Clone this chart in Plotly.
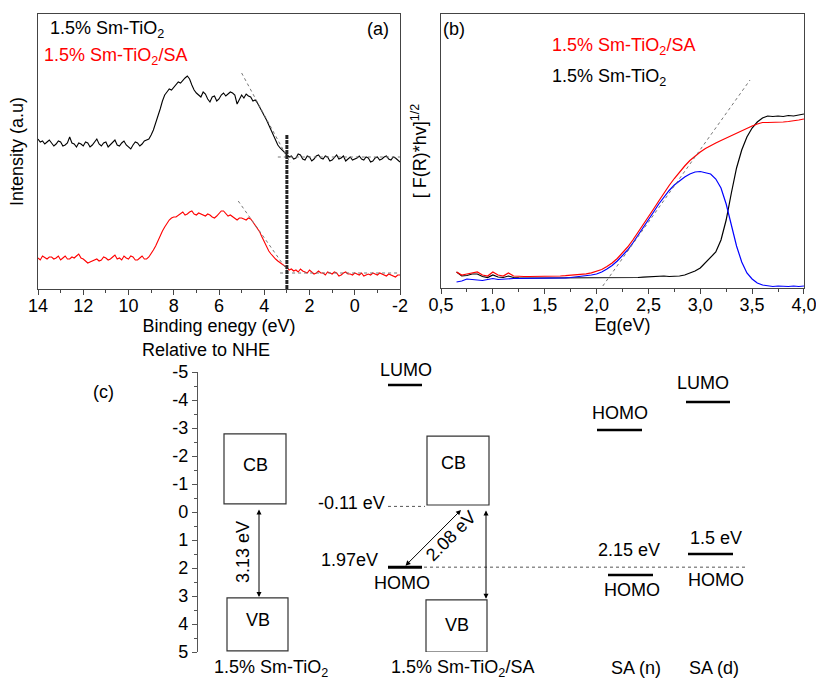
import numpy as np
import plotly.graph_objects as go

FONT = "Liberation Sans, Arial, sans-serif"
PAGE_W, PAGE_H = 816, 681
OFF = 0  # body margin is removed by the post script below
W, H = PAGE_W - OFF, PAGE_H - OFF

# ---------------- Panel (a): valence band XPS ----------------
binding_energy = np.round(np.arange(14.0, -2.001, -0.1), 1)
xps_sm_tio2 = [150, 147, 148, 145, 147, 149, 146, 143, 145, 148,
               147, 143, 144, 146, 152, 146, 145, 142, 146, 145,
               143, 147, 146, 142, 144, 147, 150, 145, 143, 146,
               147, 142, 144, 147, 149, 144, 143, 146, 148, 144,
               142, 140, 144, 147, 146, 143, 145, 148, 149, 150,
               154, 159, 166, 172, 180, 188, 194, 197, 200, 199,
               202, 205, 207, 206, 209, 211, 213, 210, 204, 199,
               196, 194, 192, 197, 195, 190, 187, 192, 193, 188,
               190, 194, 196, 193, 195, 197, 196, 194, 185, 190,
               194, 191, 195, 193, 192, 188, 189, 186, 182, 178,
               174, 169, 164, 159, 154, 149, 144, 141, 139, 137,
               135, 132, 133, 130, 131, 135, 134, 130, 129, 133,
               132, 128, 130, 133, 134, 131, 130, 133, 132, 128,
               129, 132, 134, 130, 131, 133, 128, 130, 132, 129,
               130, 131, 133, 130, 129, 132, 131, 127, 128, 131,
               132, 129, 130, 132, 133, 130, 129, 132, 131, 129,
               127]
xps_sm_tio2_sa = [31, 29, 33, 31, 30, 32, 32, 30, 31, 33,
                  29, 31, 33, 30, 30, 32, 31, 33, 35, 31,
                  30, 28, 26, 27, 28, 29, 30, 28, 29, 32,
                  31, 29, 30, 32, 34, 30, 31, 29, 33, 31,
                  30, 33, 32, 29, 29, 31, 33, 30, 30, 32,
                  35, 39, 43, 48, 54, 58, 62, 66, 69, 71,
                  72, 72, 74, 76, 77, 74, 75, 77, 78, 75,
                  74, 76, 75, 74, 73, 75, 74, 72, 71, 73,
                  76, 78, 78, 75, 73, 74, 72, 71, 69, 71,
                  71, 70, 69, 71, 70, 67, 64, 61, 57, 52,
                  47, 42, 38, 35, 32, 30, 28, 26, 25, 23,
                  22, 19, 20, 18, 19, 17, 20, 18, 17, 16,
                  19, 17, 15, 16, 18, 16, 16, 14, 17, 16,
                  15, 17, 16, 13, 14, 16, 17, 15, 15, 14,
                  16, 15, 14, 16, 13, 14, 15, 14, 16, 15,
                  14, 16, 15, 14, 13, 15, 14, 13, 12, 14,
                  14]
tan_a_black_x, tan_a_black_y = [5.0, 2.85], [216, 126]
base_a_black_x, base_a_black_y = [3.4, -2.0], [132, 132]
tan_a_red_x, tan_a_red_y = [5.15, 2.9], [88, 16]
base_a_red_x, base_a_red_y = [3.3, -2.0], [16, 16]
vbm_x, vbm_y = [3.0, 3.0], [0, 155]

# ---------------- Panel (b): Tauc plot ----------------
eg = np.round(np.arange(0.65, 4.0001, 0.05), 2)
tauc_sa = [16, 13, 14, 15, 16, 13, 12, 16, 13, 12,
           15, 12, 11.5, 11.5, 11.5, 11.5, 11.5, 11.5, 11.8, 12,
           12, 12.3, 12.6, 13, 13.5, 14.2, 15.2, 16.5, 18.5, 21.5,
           25, 29.5, 35, 41, 48, 55.5, 63, 71, 79, 87,
           95, 102.5, 109.5, 116, 122, 127.5, 132, 136, 139.5, 142.5,
           145, 147.5, 150, 152.5, 155, 157, 159.5, 162, 164, 165.5,
           165.5, 165.5, 166, 166, 166.5, 167, 168, 169]
tauc_tio2 = [16, 12, 12.5, 14, 14, 11.5, 10.5, 13, 11, 10.5,
             12, 10.5, 10.2, 10, 10, 10, 10, 10, 10, 10,
             10, 10, 10, 10, 10, 10, 10, 10, 10.2, 10.2,
             10.3, 10.3, 10.4, 10.4, 10.5, 10.5, 10.8, 11, 11.5, 12,
             12, 11.5, 11.5, 12, 13, 15, 17, 20, 25, 30,
             36, 48, 68, 95, 120, 138, 151, 160, 166, 170,
             172, 171.5, 172, 171.5, 172.5, 172, 173, 174]
tauc_diff = [6, 7, 9, 8.5, 8, 7.5, 8.5, 9.5, 8.5, 9,
             9.5, 9.5, 9.5, 9.5, 9.6, 9.7, 9.8, 9.9, 10, 10,
             10, 10.2, 10.5, 11, 11.5, 12, 13, 14, 16, 19,
             22.5, 27, 32, 38, 45, 52.5, 60, 68, 76, 84,
             91, 97.5, 103, 107.5, 111, 114, 116, 116.5, 115, 114,
             109, 100, 84, 63, 42, 26, 15, 9, 5, 3,
             2, 1.5, 2, 1.5, 1.5, 2, 1.5, 2]
tan_b_x, tan_b_y = [2.06, 3.48], [2, 208]
eg_ticks = [0.5, 1.0, 1.5, 2.0, 2.5, 3.0, 3.5, 4.0]
eg_ticktext = ["0,5", "1,0", "1,5", "2,0", "2,5", "3,0", "3,5", "4,0"]

# ---------------- Panel (c): energy diagram (eV vs NHE) ----------------
cb_tio2 = [-2.79, -0.29]
vb_tio2 = [3.07, 4.96]
cb_comp = [-2.71, -0.25]
vb_comp = [3.14, 5.0]
lumo_comp = -4.54
homo_comp = 1.97
cb_edge_comp = -0.2
san_upper, san_lower = -2.93, 2.25
sad_upper, sad_lower = -3.93, 1.5
arrow_tio2 = [-0.14, 3.04]
arrow_comp = [-0.11, 3.1]
arrow_diag = [1.97, -0.07]
nhe_ticks = list(range(-5, 6))
nhe_ticktext = [str(v) for v in nhe_ticks]


def px_x(p):
    return (p - OFF) / W


def px_y(p):
    return 1 - (p - OFF) / H


fig = go.Figure()

# panel (a) traces
fig.add_trace(go.Scatter(x=binding_energy, y=xps_sm_tio2, mode="lines",
                         line=dict(color="black", width=1.1), xaxis="x", yaxis="y", showlegend=False))
fig.add_trace(go.Scatter(x=binding_energy, y=xps_sm_tio2_sa, mode="lines",
                         line=dict(color="red", width=1.1), xaxis="x", yaxis="y", showlegend=False))
for xs, ys in [(tan_a_black_x, tan_a_black_y), (base_a_black_x, base_a_black_y),
               (tan_a_red_x, tan_a_red_y), (base_a_red_x, base_a_red_y)]:
    fig.add_trace(go.Scatter(x=xs, y=ys, mode="lines", line=dict(color="#777", width=1, dash="dot"),
                             xaxis="x", yaxis="y", showlegend=False))
fig.add_trace(go.Scatter(x=vbm_x, y=vbm_y, mode="lines", line=dict(color="#222", width=3, dash="4px,1px"),
                         xaxis="x", yaxis="y", showlegend=False))

# panel (b) traces
fig.add_trace(go.Scatter(x=eg, y=tauc_tio2, mode="lines", line=dict(color="black", width=1.2),
                         xaxis="x2", yaxis="y2", showlegend=False))
fig.add_trace(go.Scatter(x=eg, y=tauc_diff, mode="lines", line=dict(color="blue", width=1.2),
                         xaxis="x2", yaxis="y2", showlegend=False))
fig.add_trace(go.Scatter(x=eg, y=tauc_sa, mode="lines", line=dict(color="red", width=1.2),
                         xaxis="x2", yaxis="y2", showlegend=False))
fig.add_trace(go.Scatter(x=tan_b_x, y=tan_b_y, mode="lines", line=dict(color="#777", width=1, dash="dot"),
                         xaxis="x2", yaxis="y2", showlegend=False))

# panel (c) invisible anchor trace
fig.add_trace(go.Scatter(x=[400], y=[0], mode="markers", marker=dict(opacity=0), xaxis="x3", yaxis="y3",
                         showlegend=False, hoverinfo="skip"))

shapes = []


def rect(x0, x1, ys):
    shapes.append(dict(type="rect", xref="x3", yref="y3", x0=x0, x1=x1, y0=ys[0], y1=ys[1],
                       line=dict(color="#333", width=1.2), fillcolor="rgba(0,0,0,0)"))


def hline(x0, x1, y, width=2.5, dash="solid", color="black"):
    shapes.append(dict(type="line", xref="x3", yref="y3", x0=x0, x1=x1, y0=y, y1=y,
                       line=dict(color=color, width=width, dash=dash)))


rect(224, 286, cb_tio2)
rect(227, 288, vb_tio2)
rect(427, 489, cb_comp)
rect(426, 487, vb_comp)
hline(388, 422, lumo_comp, 2.5)
hline(388, 422, homo_comp, 3)
hline(388, 425, cb_edge_comp, 1, "dot", "#555")
hline(424, 745, homo_comp, 1, "dot", "#555")
hline(597, 642, san_upper, 2.5)
hline(608, 653, san_lower, 2.5)
hline(686, 730, sad_upper, 2.5)
hline(688, 733, sad_lower, 2.5)

anns = []


def txt(x, y, s, xref="x3", yref="y3", size=18, color="black", angle=0, xanchor="center"):
    if xref == "paper":
        x = px_x(x)
    if yref == "paper":
        y = px_y(y)
    anns.append(dict(x=x, y=y, xref=xref, yref=yref, text=s, showarrow=False, textangle=angle,
                     xanchor=xanchor, yanchor="middle", font=dict(family=FONT, size=size, color=color)))


def arrow(x0, y0, x1, y1):
    anns.append(dict(x=x1, y=y1, ax=x0, ay=y0, xref="x3", yref="y3", axref="x3", ayref="y3",
                     text="", showarrow=True, arrowhead=2, arrowsize=1, arrowwidth=1,
                     arrowside="end+start", arrowcolor="black", startarrowhead=2, startarrowsize=1,
                     standoff=0, startstandoff=0))


arrow(259, arrow_tio2[0], 259, arrow_tio2[1])
arrow(486, arrow_comp[0], 486, arrow_comp[1])
arrow(404, arrow_diag[0], 461, arrow_diag[1])

# panel (c) texts
txt(206, 350, "Relative to NHE", "paper", "paper")
txt(103, 392, "(c)", "paper", "paper")
txt(255, -1.68, "CB")
txt(258, 3.86, "VB")
txt(453, -1.75, "CB")
txt(457, 4.04, "VB")
txt(243, 1.43, "3.13 eV", angle=-90)
txt(451, 0.86, "2.08 eV", angle=-45)
txt(406, 370, "LUMO", "paper", "paper")
txt(387, -0.32, "-0.11 eV", xanchor="right")
txt(380, 1.71, "1.97eV", xanchor="right")
txt(402, 2.54, "HOMO")
txt(620, -3.54, "HOMO")
txt(629, 1.36, "2.15 eV")
txt(632, 2.79, "HOMO")
txt(703, -4.61, "LUMO")
txt(716, 0.93, "1.5 eV")
txt(716, 2.43, "HOMO")
txt(271, 668, "1.5% Sm-TiO<sub>2</sub>", "paper", "paper")
txt(462, 668, "1.5% Sm-TiO<sub>2</sub>/SA", "paper", "paper")
txt(636, 668, "SA (n)", "paper", "paper")
txt(714, 668, "SA (d)", "paper", "paper")

# panel (a)/(b) texts
txt(48, 29, "1.5% Sm-TiO<sub>2</sub>", "paper", "paper", xanchor="left")
txt(42, 57, "1.5% Sm-TiO<sub>2</sub>/SA", "paper", "paper", color="red", xanchor="left")
txt(378, 29, "(a)", "paper", "paper")
txt(454, 29, "(b)", "paper", "paper")
txt(550, 47, "1.5% Sm-TiO<sub>2</sub>/SA", "paper", "paper", color="red", xanchor="left")
txt(550, 77, "1.5% Sm-TiO<sub>2</sub>", "paper", "paper", xanchor="left")

frame = dict(showline=True, linecolor="#444", linewidth=1.2, mirror=True, showgrid=False,
             zeroline=False, automargin=False)
tickfont = dict(family=FONT, size=18, color="black")

fig.update_layout(
    width=W, height=H, margin=dict(l=0, r=0, t=0, b=0),
    paper_bgcolor="white", plot_bgcolor="white",
    font=dict(family=FONT, size=18, color="black"),
    shapes=shapes, annotations=anns,
    xaxis=dict(**frame, domain=[px_x(38), px_x(400)], range=[14, -2], anchor="y",
               tickvals=[14, 12, 10, 8, 6, 4, 2, 0, -2],
               ticktext=["14", "12", "10", "8", "6", "4", "2", "0", "-2"],
               ticks="outside", ticklen=5, tickcolor="#444", tickfont=tickfont, ticklabelstandoff=-5,
               ticklabeloverflow="allow",
               minor=dict(ticks="outside", ticklen=3, dtick=1, tick0=0, tickcolor="#444"),
               title=dict(text="Binding enegy (eV)", font=tickfont, standoff=0)),
    yaxis=dict(**frame, domain=[px_y(289), px_y(14)], range=[0, 275], anchor="x",
               showticklabels=False, ticks="",
               title=dict(text="Intensity (a.u)", font=tickfont, standoff=8)),
    xaxis2=dict(**frame, domain=[px_x(441), px_x(804)], range=[0.5, 4.0005], anchor="y2",
                tickvals=eg_ticks, ticktext=eg_ticktext,
                ticks="outside", ticklen=5, tickcolor="#444", tickfont=tickfont, ticklabelstandoff=-5,
                ticklabeloverflow="allow",
                minor=dict(ticks="outside", ticklen=3, dtick=0.25, tick0=0.5, tickcolor="#444"),
                title=dict(text="Eg(eV)", font=tickfont, standoff=0)),
    yaxis2=dict(**frame, domain=[px_y(288), px_y(14)], range=[0, 274], anchor="x2",
                showticklabels=False, ticks="",
                title=dict(text="[ F(R)*hv]<sup>1/2</sup>", font=tickfont, standoff=8)),
    xaxis3=dict(domain=[0, 1], range=[OFF, PAGE_W], visible=False, anchor="y3", fixedrange=True),
    yaxis3=dict(domain=[px_y(652), px_y(372)], range=[5, -5], anchor="free", position=px_x(197),
                showline=True, linecolor="#555", linewidth=1.2, showgrid=False, zeroline=False,
                tickvals=nhe_ticks, ticktext=nhe_ticktext, ticks="outside", ticklen=5,
                tickcolor="#555", tickfont=tickfont, automargin=False,
                minor=dict(ticks="outside", ticklen=3, dtick=0.5, tick0=0, tickcolor="#555")),
)

fig.write_html("out.html", config={"displayModeBar": False},
               post_script="document.body.style.margin='0';document.body.style.overflow='hidden';")
